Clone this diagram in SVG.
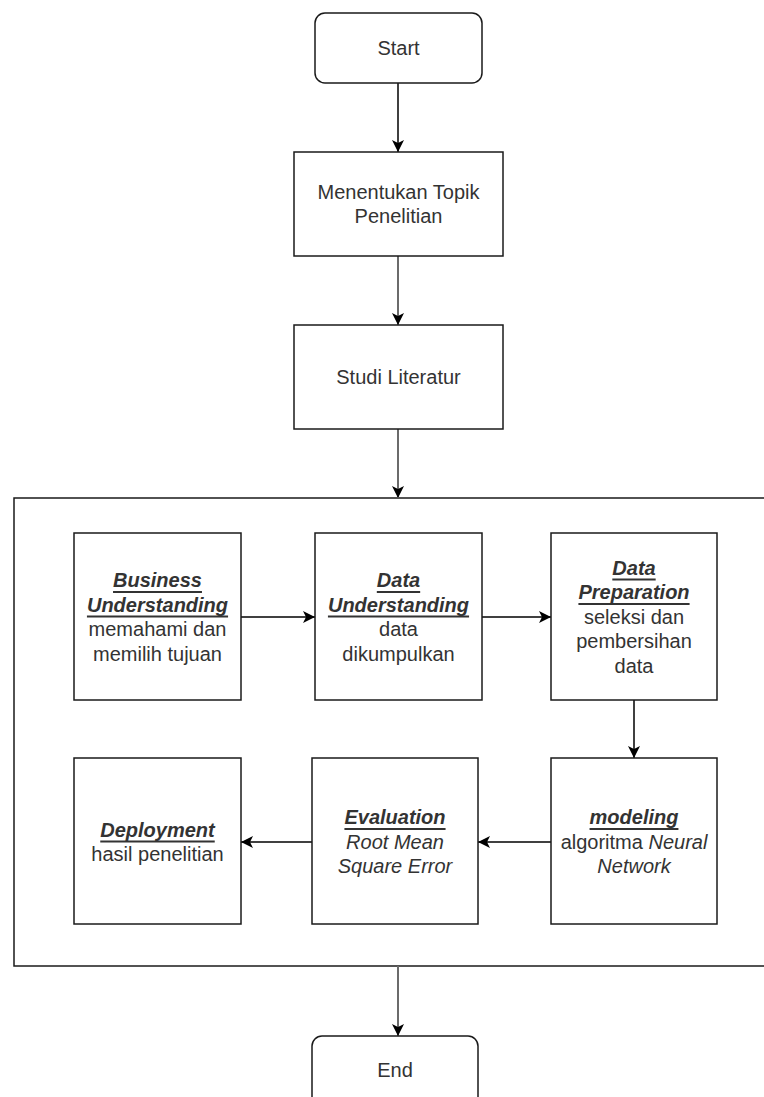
<svg xmlns="http://www.w3.org/2000/svg" width="764" height="1097" viewBox="0 0 764 1097">
<style>
  .box{fill:#fff;stroke:#1a1a1a;stroke-width:1.5}
  .t{font-family:"Liberation Sans",Arial,sans-serif;font-size:20px;fill:#333;text-anchor:middle;dominant-baseline:central}
  .h{font-weight:bold;font-style:italic;text-decoration:underline}
  .i{font-style:italic}
  .c1{fill:none;stroke:#000;stroke-width:1.5}
  .c2{fill:none;stroke:#6b6b6b;stroke-width:2}
</style>
<defs>
  <marker id="arr" markerUnits="userSpaceOnUse" markerWidth="14" markerHeight="14" viewBox="0 0 14 14" refX="12" refY="7" orient="auto">
    <path d="M0,1 L12,7 L0,13 L3,7 Z" fill="#000"/>
  </marker>
</defs>
<rect width="764" height="1097" fill="#fff"/>
<g id="container">
  <rect class="box" x="14" y="498" width="800" height="468"/>
</g>
<g id="connectors">
  <path class="c1" d="M398,83 L398,152" marker-end="url(#arr)"/>
  <path class="c2" d="M398,256 L398,325" marker-end="url(#arr)"/>
  <path class="c2" d="M398,429 L398,498" marker-end="url(#arr)"/>
  <path class="c2" d="M398,966 L398,1036" marker-end="url(#arr)"/>
  <path class="c1" d="M241,617 L315,617" marker-end="url(#arr)"/>
  <path class="c1" d="M482,617 L551,617" marker-end="url(#arr)"/>
  <path class="c1" d="M634,700 L634,758" marker-end="url(#arr)"/>
  <path class="c1" d="M551,842 L478,842" marker-end="url(#arr)"/>
  <path class="c1" d="M312,842 L241,842" marker-end="url(#arr)"/>
</g>
<g id="start">
  <rect class="box" x="315" y="13" width="167" height="70" rx="10"/>
  <text class="t" x="398.5" y="48">Start</text>
</g>
<g id="topik">
  <rect class="box" x="294" y="152" width="209" height="104"/>
  <text class="t" x="398.5" y="192">Menentukan Topik</text>
  <text class="t" x="398.5" y="216">Penelitian</text>
</g>
<g id="studi">
  <rect class="box" x="294" y="325" width="209" height="104"/>
  <text class="t" x="398.5" y="377">Studi Literatur</text>
</g>
<g id="business">
  <rect class="box" x="74" y="533" width="167" height="167"/>
  <text class="t h" x="157.5" y="580">Business</text>
  <text class="t h" x="157.5" y="604.5">Understanding</text>
  <text class="t" x="157.5" y="629">memahami dan</text>
  <text class="t" x="157.5" y="653.5">memilih tujuan</text>
</g>
<g id="dataunderstanding">
  <rect class="box" x="315" y="533" width="167" height="167"/>
  <text class="t h" x="398.5" y="580">Data</text>
  <text class="t h" x="398.5" y="604.5">Understanding</text>
  <text class="t" x="398.5" y="629">data</text>
  <text class="t" x="398.5" y="653.5">dikumpulkan</text>
</g>
<g id="datapreparation">
  <rect class="box" x="551" y="533" width="166" height="167"/>
  <text class="t h" x="634" y="567.5">Data</text>
  <text class="t h" x="634" y="592">Preparation</text>
  <text class="t" x="634" y="616.5">seleksi dan</text>
  <text class="t" x="634" y="641">pembersihan</text>
  <text class="t" x="634" y="665.5">data</text>
</g>
<g id="modeling">
  <rect class="box" x="551" y="758" width="166" height="166"/>
  <text class="t h" x="634" y="817">modeling</text>
  <text class="t" x="634" y="841.5">algoritma <tspan class="i">Neural</tspan></text>
  <text class="t i" x="634" y="866">Network</text>
</g>
<g id="evaluation">
  <rect class="box" x="312" y="758" width="166" height="166"/>
  <text class="t h" x="395" y="817">Evaluation</text>
  <text class="t i" x="395" y="841.5">Root Mean</text>
  <text class="t i" x="395" y="866">Square Error</text>
</g>
<g id="deployment">
  <rect class="box" x="74" y="758" width="167" height="166"/>
  <text class="t h" x="157.5" y="829.5">Deployment</text>
  <text class="t" x="157.5" y="854">hasil penelitian</text>
</g>
<g id="end">
  <rect class="box" x="312" y="1036" width="166" height="90" rx="10"/>
  <text class="t" x="395" y="1070">End</text>
</g>
</svg>
